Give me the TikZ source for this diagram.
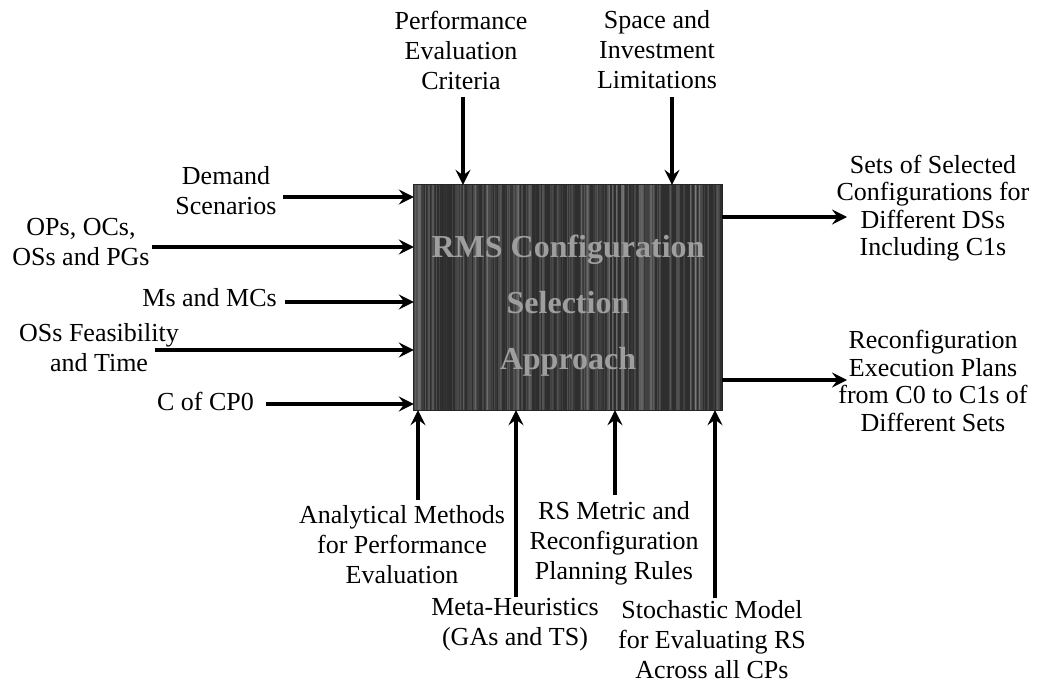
\documentclass[tikz,border=0pt]{standalone}
\usepackage{fontspec}
\setmainfont{Liberation Serif}
\usetikzlibrary{arrows.meta}

\tikzset{
  lbl/.style={align=center, inner sep=0pt, font=\fontsize{26}{30}\selectfont},
  outlbl/.style={align=center, inner sep=0pt, font=\fontsize{26}{27.5}\selectfont},
  flow/.style={line width=3.4pt, -{Stealth[length=15pt,width=15pt,inset=5.5pt]}},
}

\begin{document}
\begin{tikzpicture}[x=1pt,y=-1pt]
  \useasboundingbox (0,0) rectangle (1052,687);
  % Drawing the approach box
  \node[fill=black!82, minimum width=308pt, minimum height=225pt, inner sep=0pt] (rms) at (568,297.5) {};
  \begin{scope}
    \clip (rms.south west) rectangle (rms.north east);
    \pgfmathsetseed{11}
    \foreach \i in {1,...,220} {
      \pgfmathsetmacro{\xx}{414+308*rnd}
      \pgfmathsetmacro{\op}{0.03+0.12*rnd}
      \pgfmathsetmacro{\lw}{0.4+2*rnd}
      \draw[white, opacity=\op, line width=\lw pt] (\xx,185) -- (\xx,410);
    }
  \end{scope}
  \draw[black!85, line width=1.2pt] (rms.south west) rectangle (rms.north east);
  \node[text=black!38, font=\fontsize{32}{56}\selectfont\bfseries, align=center] (rmstitle) at (568,306)
    {RMS Configuration\\Selection\\Approach};
  % Controls from above
  \node[lbl] (perfcrit) at (461,50) {Performance\\Evaluation\\Criteria};
  \node[lbl] (spacelim) at (657,50) {Space and\\Investment\\Limitations};
  \coordinate (perfIn) at (463,97);
  \coordinate (spaceIn) at (672,97);
  \draw[flow] (perfIn) -- (perfIn |- rms.north);
  \draw[flow] (spaceIn) -- (spaceIn |- rms.north);
  % Inputs from the left
  \node[lbl] (demand) at (226,191) {Demand\\Scenarios};
  \node[lbl] (opsocs) at (81,242) {OPs, OCs,\\OSs and PGs};
  \node[lbl, anchor=east] (msmcs) at (277,298) {Ms and MCs};
  \node[lbl] (osfeas) at (99,348) {OSs Feasibility\\and Time};
  \node[lbl, anchor=east] (cofcp) at (254,401) {C of CP0};
  \coordinate (demandIn) at (283,197);
  \coordinate (opsIn) at (152,247);
  \coordinate (msIn) at (285,302);
  \coordinate (feasIn) at (155,350);
  \coordinate (cpIn) at (266,404);
  \foreach \c in {demandIn,opsIn,msIn,feasIn,cpIn}
    \draw[flow] (\c) -- (\c -| rms.west);
  % Outputs to the right
  \node[outlbl] (selsets) at (933,208) {Sets of Selected\\Configurations for\\Different DSs\\Including C1s};
  \node[outlbl] (reconfplans) at (933,381) {Reconfiguration\\Execution Plans\\from C0 to C1s of\\Different Sets};
  \coordinate (setsOut) at (847,217);
  \coordinate (plansOut) at (847,380);
  \draw[flow] (setsOut -| rms.east) -- (setsOut);
  \draw[flow] (plansOut -| rms.east) -- (plansOut);
  % Mechanisms from below
  \node[lbl] (analyt) at (402,545) {Analytical Methods\\for Performance\\Evaluation};
  \node[lbl] (rsmetric) at (614,543) {RS Metric and\\Reconfiguration\\Planning Rules};
  \node[lbl] (metaheur) at (515,625) {Meta-Heuristics\\(GAs and TS)};
  \node[lbl] (stochmodel) at (712,640) {Stochastic Model\\for Evaluating RS\\Across all CPs};
  \coordinate (analytIn) at (418,500);
  \coordinate (metaIn) at (516,597);
  \coordinate (rsIn) at (615,495);
  \coordinate (stochIn) at (715,598);
  \foreach \c in {analytIn,metaIn,rsIn,stochIn}
    \draw[flow] (\c) -- (\c |- rms.south);
\end{tikzpicture}
\end{document}
